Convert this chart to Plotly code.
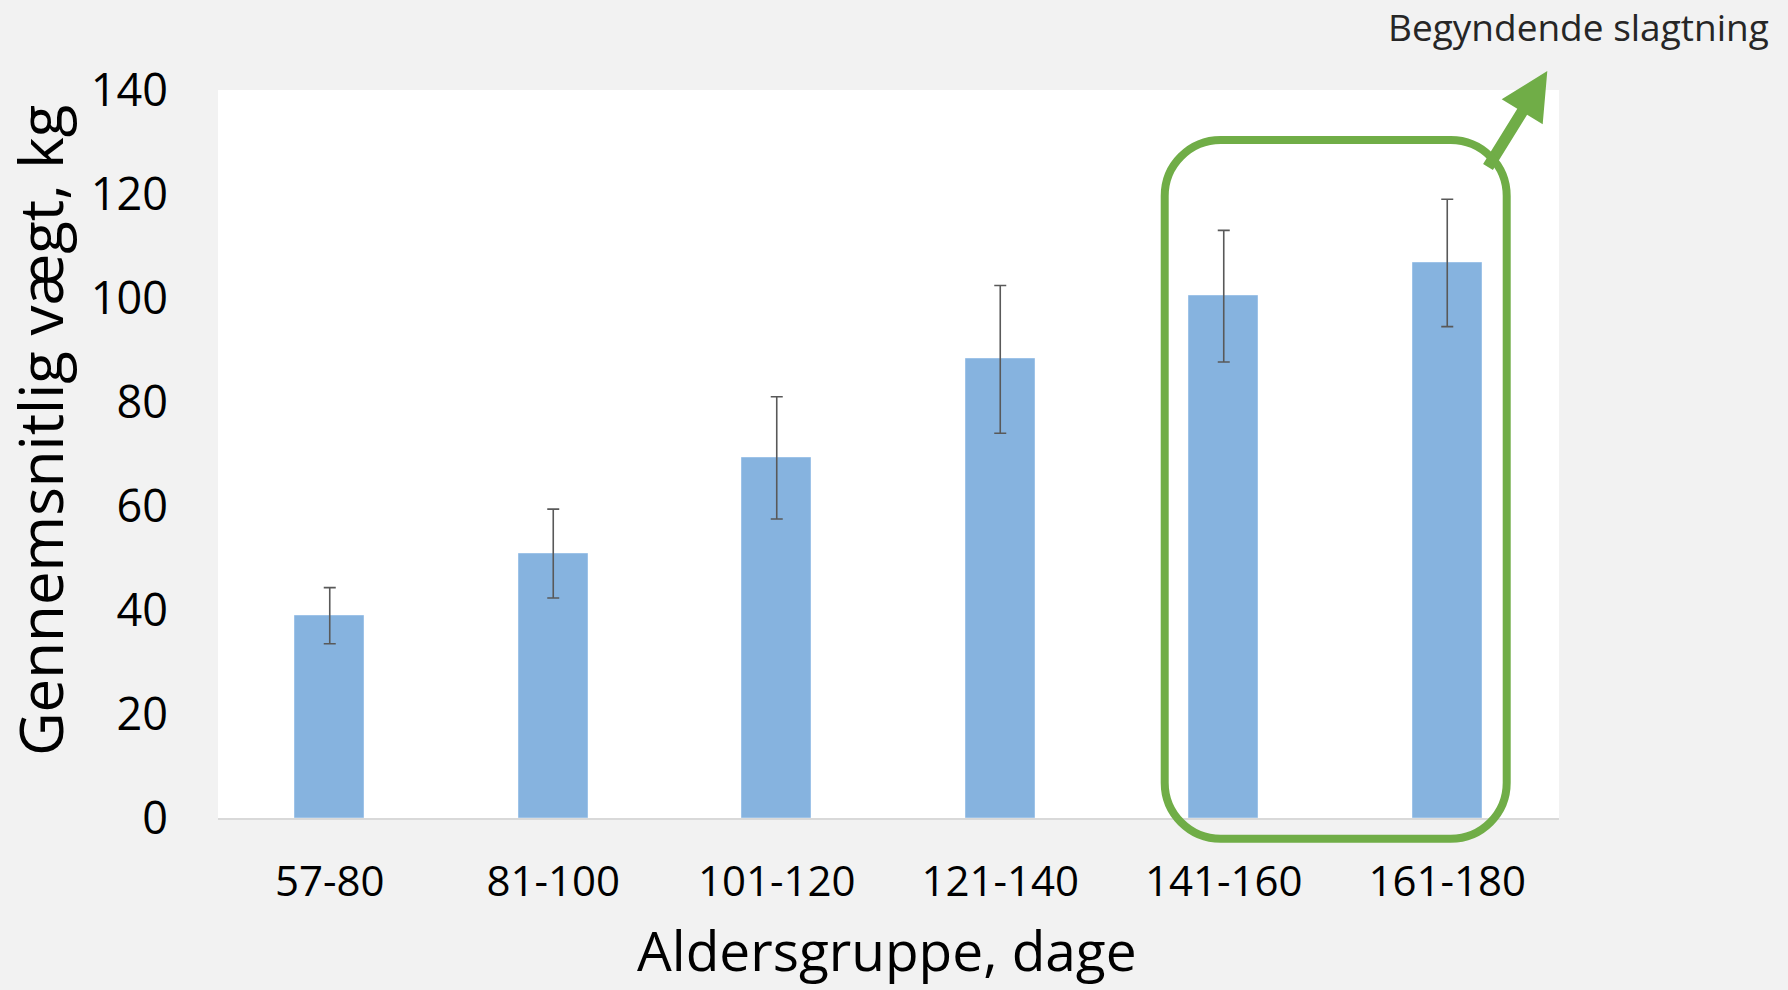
import plotly.graph_objects as go

# ---- data ----
categories = ["57-80", "81-100", "101-120", "121-140", "141-160", "161-180"]
mean_weight = [38.9, 50.8, 69.2, 88.2, 100.4, 106.7]
error_plus = [5.4, 8.6, 11.8, 14.2, 12.6, 12.3]
error_minus = [5.4, 8.5, 11.7, 14.2, 12.7, 12.2]
y_ticks = [0, 20, 40, 60, 80, 100, 120, 140]

# ---- layout geometry (pixels) ----
FW, FH = 1788, 990
L, R, T, B = 218, 1559, 90, 818
W, H = R - L, B - T


def px(x, y):
    return (x - L) / W, (B - y) / H


def pt(x, y):
    a, b = px(x, y)
    return f"{a:.5f},{b:.5f}"


# rounded rectangle (highlight box) path
x0, x1, y0, y1, r = 1164.7, 1506.7, 140, 838.7, 56
k = 0.5523 * r
box_path = (
    f"M {pt(x0 + r, y0)} L {pt(x1 - r, y0)} "
    f"C {pt(x1 - r + k, y0)} {pt(x1, y0 + r - k)} {pt(x1, y0 + r)} "
    f"L {pt(x1, y1 - r)} "
    f"C {pt(x1, y1 - r + k)} {pt(x1 - r + k, y1)} {pt(x1 - r, y1)} "
    f"L {pt(x0 + r, y1)} "
    f"C {pt(x0 + r - k, y1)} {pt(x0, y1 - r + k)} {pt(x0, y1 - r)} "
    f"L {pt(x0, y0 + r)} "
    f"C {pt(x0, y0 + r - k)} {pt(x0 + r - k, y0)} {pt(x0 + r, y0)} Z"
)

# arrow polygon
arrow_pts = [(1483.1, 164.0), (1517.3, 108.8), (1501.7, 99.3), (1547.3, 71.0),
             (1542.7, 124.3), (1527.1, 114.8), (1492.9, 170.0)]
arrow_path = "M " + " L ".join(pt(x, y) for x, y in arrow_pts) + " Z"

GREEN = "#70AD47"
FONT = "Open Sans"

fig = go.Figure()
fig.add_trace(go.Bar(
    x=categories,
    y=mean_weight,
    width=0.31,
    marker=dict(color="#86B3DF", line=dict(color="#9EC3E8", width=1)),
    error_y=dict(type="data", symmetric=False, array=error_plus, arrayminus=error_minus,
                 color="#595959", thickness=1.6, width=6),
    showlegend=False,
))

fig.update_layout(
    width=FW, height=FH,
    margin=dict(l=L, r=FW - R, t=T, b=FH - B, pad=0),
    paper_bgcolor="#F2F2F2",
    plot_bgcolor="#FFFFFF",
    font=dict(family=FONT, color="#000000"),
    bargap=0,
    xaxis=dict(
        type="category",
        showgrid=False,
        showline=True, linecolor="#D9D9D9", linewidth=2,
        ticks="outside", ticklen=26, tickcolor="rgba(0,0,0,0)",
        tickfont=dict(family=FONT, size=42, color="#000000"),
        zeroline=False,
    ),
    yaxis=dict(
        range=[0, 140],
        tickvals=y_ticks,
        showgrid=False,
        showline=False,
        zeroline=False,
        ticks="outside", ticklen=40, tickcolor="rgba(0,0,0,0)",
        tickfont=dict(family=FONT, size=45, color="#000000"),
    ),
    shapes=[
        dict(type="path", xref="paper", yref="paper", path=arrow_path,
             fillcolor=GREEN, line=dict(width=0), layer="above"),
        dict(type="path", xref="paper", yref="paper", path=box_path,
             fillcolor="rgba(0,0,0,0)", line=dict(color=GREEN, width=8), layer="above"),
    ],
)

ax, ay = px(40, 431)
bx, by = px(887, 989)
cx, cy = px(1578, 26)
fig.add_annotation(x=ax, y=ay, xref="paper", yref="paper", text="Gennemsnitlig vægt, kg",
                   textangle=-90, showarrow=False, xanchor="center", yanchor="middle",
                   font=dict(family=FONT, size=60, color="#000000"))
fig.add_annotation(x=bx, y=by, xref="paper", yref="paper", text="Aldersgruppe, dage",
                   showarrow=False, xanchor="center", yanchor="bottom",
                   font=dict(family=FONT, size=55, color="#000000"))
fig.add_annotation(x=cx, y=cy, xref="paper", yref="paper", text="Begyndende slagtning",
                   showarrow=False, xanchor="center", yanchor="middle",
                   font=dict(family=FONT, size=37, color="#262626"))

fig.write_html(
    "out.html",
    config={"displayModeBar": False},
    post_script="document.body.style.margin='0';document.body.style.overflow='hidden';",
)
